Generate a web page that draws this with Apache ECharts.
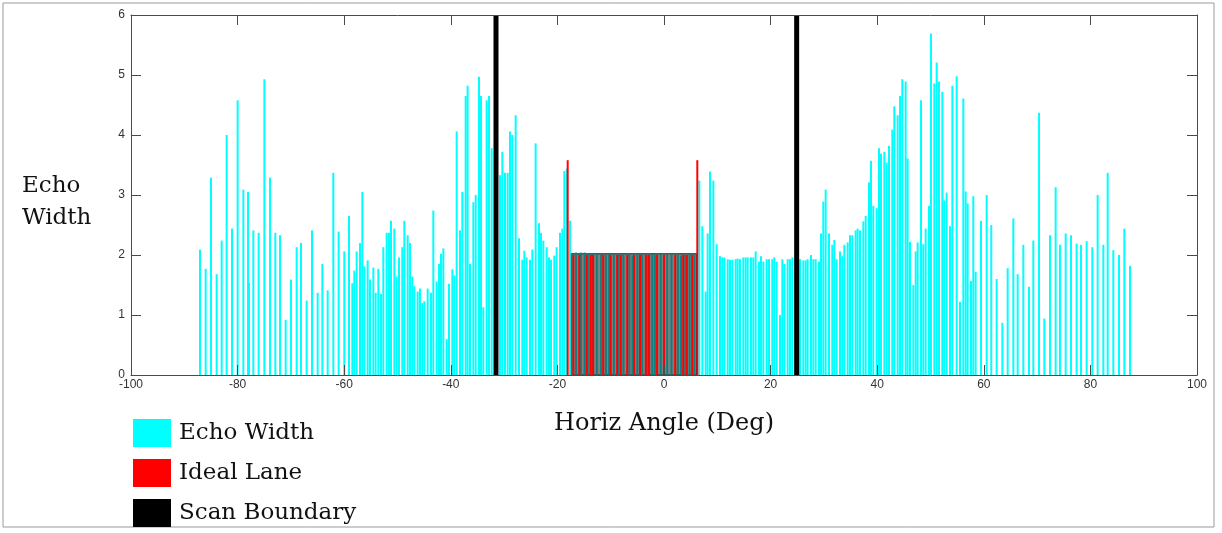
<!DOCTYPE html>
<html>
<head>
<meta charset="utf-8">
<script src="https://cdn.jsdelivr.net/npm/echarts@6/dist/echarts.min.js"></script>
<style>
  html, body { margin: 0; padding: 0; background: #fff; }
  #chart { width: 1222px; height: 533px; }
</style>
</head>
<body>
<div id="chart"></div>
<script>
// Echo width per horizontal angle, [angle (deg), width]
const echoLeft = [
  [-87.05,2.09],[-85.99,1.77],[-84.99,3.29],[-83.93,1.68],[-82.99,2.24],[-82.05,4.0],[-81.05,2.44],[-79.99,4.58],[-78.92,3.09],[-78.05,3.05],
  [-77.86,1.54],[-77.05,2.41],[-76.05,2.37],[-74.98,4.93],[-73.92,3.29],[-72.92,2.37],[-72.05,2.33],[-70.98,0.92],[-69.98,1.59],[-68.92,2.13],
  [-68.1,2.2],[-67.04,1.24],[-66.04,2.41],[-64.98,1.37],[-64.1,1.85],[-63.1,1.41],[-62.04,3.37],[-61.04,2.39],[-59.98,2.06],[-59.1,2.65],
  [-58.47,1.53],[-58.1,1.74],[-57.66,2.06],[-57.04,2.2],[-56.6,3.05],[-56.22,1.81],[-55.6,1.91],[-55.16,1.59],[-54.53,1.79],[-54.1,1.37],
  [-53.6,1.77],[-53.1,1.35],[-52.66,2.13],[-52.03,2.37],[-51.6,2.37],[-51.22,2.57],[-50.59,2.44],[-50.16,1.64],[-49.72,1.96],[-49.09,2.13],
  [-48.72,2.57],[-48.09,2.33],[-47.65,2.2],[-47.22,1.64],[-46.84,1.48],[-46.22,1.39],[-45.78,1.44],[-45.34,1.2],[-44.97,1.23],
  [-44.34,1.44],[-43.71,1.37],[-43.28,2.74],[-42.65,1.56],[-42.21,1.85],[-41.84,2.02],[-41.4,2.11],[-40.77,0.6],[-40.34,1.52],[-39.71,1.76],
  [-39.34,1.66],[-38.9,4.06],[-38.27,2.41],[-37.84,3.05],[-37.21,4.65],[-36.84,4.82],[-36.4,1.85],[-35.77,2.88],[-35.33,3.0],[-34.71,4.97],
  [-34.33,4.65],[-33.9,1.13],[-33.27,4.58],[-32.83,4.65],[-32.33,3.78],[-30.77,3.33],[-30.33,3.72],[-29.83,3.37],[-29.33,3.37],[-28.89,4.06],
  [-28.46,4.0],[-27.83,4.33],[-27.2,2.28],[-26.58,1.92],[-26.2,2.07],[-25.77,1.96],[-25.14,1.92],[-24.7,2.09],[-24.08,3.86],[-23.45,2.53],
  [-23.08,2.37],[-22.64,2.24],[-22.01,2.13],[-21.58,1.96],[-21.2,1.92],[-20.58,1.99],[-20.14,2.13],[-19.51,2.37],[-19.07,2.44],[-18.7,3.4],
  [-18.26,3.44],[-17.64,2.57]
];
const echoLane = [
  [-17.3,2.02],[-16.5,2.04],[-15.6,2.04],[-14.9,2.04],[-14.3,2.03],[-13.5,2.02],[-12.6,2.01],[-11.8,2.02],[-10.9,2.0],[-10.3,2.02],
  [-9.4,2.01],[-8.5,2.0],[-7.6,2.02],[-6.5,2.01],[-5.9,1.99],[-5.0,2.02],[-4.1,2.01],[-3.1,2.0],[-2.2,2.02],[-1.7,2.01],
  [-0.6,2.02],[0.6,2.0],[1.4,2.02],[2.6,2.01],[3.2,1.99],[4.0,2.0],[4.8,2.02],[5.7,2.01]
];
const echoRight = [
  [6.63,3.24],[7.19,2.48],[7.82,1.39],[8.19,2.36],[8.63,3.39],[9.26,3.24],[9.88,2.18],[10.51,1.98],[10.94,1.96],[11.32,1.96],
  [11.95,1.93],[12.38,1.92],[12.82,1.92],[13.45,1.93],[13.82,1.94],[14.26,1.93],[14.88,1.96],[15.32,1.96],[15.7,1.96],[16.32,1.96],
  [16.76,1.96],[17.2,2.06],[17.82,1.89],[18.2,1.98],[18.64,1.89],[19.26,1.93],[19.7,1.93],[20.32,1.93],[20.7,1.96],[21.14,1.89],
  [21.76,1.0],[22.2,1.93],[22.58,1.85],[23.2,1.93],[23.64,1.93],[24.08,1.96],[25.52,1.93],[26.14,1.91],[26.58,1.91],[26.95,1.93],
  [27.58,2.0],[28.02,1.93],[28.46,1.93],[29.08,1.89],[29.46,2.36],[29.89,2.89],[30.33,3.09],[30.96,2.36],[31.58,2.17],[31.96,2.25],
  [32.39,1.93],[33.02,2.06],[33.46,1.98],[33.83,2.17],[34.46,2.21],[34.9,2.33],[35.33,2.33],[35.96,2.41],[36.33,2.44],[36.77,2.41],
  [37.4,2.56],[37.84,2.65],[38.46,3.21],[38.84,3.57],[39.27,2.82],[39.9,2.78],[40.34,3.78],[40.71,3.69],[41.34,3.72],[41.78,3.54],
  [42.21,3.82],[42.84,4.09],[43.21,4.48],[43.84,4.33],[44.28,4.65],[44.71,4.93],[45.34,4.89],[45.71,3.61],[46.15,2.22],[46.78,1.5],
  [47.22,2.06],[47.59,2.21],[48.22,4.58],[48.65,2.18],[49.09,2.44],[49.72,2.82],[50.09,5.69],[50.72,4.86],[51.16,5.21],[51.59,4.89],
  [52.22,4.72],[52.59,2.91],[53.03,3.04],[53.66,2.48],[54.1,4.82],[54.91,4.98],[55.53,1.22],[56.16,4.61],[56.6,3.06],[56.97,2.86],
  [57.6,1.57],[58.03,2.98],[58.47,1.72],[59.47,2.57],[60.54,3.0],[61.4,2.5],[62.41,1.6],[63.48,0.87],[64.48,1.78],[65.54,2.61],
  [66.35,1.68],[67.42,2.17],[68.48,1.47],[69.29,2.24],[70.36,4.37],[71.36,0.94],[72.42,2.33],[73.48,3.13],[74.3,2.17],[75.36,2.36],
  [76.36,2.33],[77.42,2.19],[78.24,2.17],[79.3,2.23],[80.36,2.13],[81.36,3.0],[82.43,2.17],[83.24,3.37],[84.3,2.08],[85.37,2.0],
  [86.37,2.44],[87.43,1.82]
];
// Ideal lane marks, [angle (deg), width]
const idealLane = [
  [-18.07,3.58],[-17.0,2.0],[-15.9,2.0],[-14.5,2.0],[-13.8,2.0],[-13.3,2.0],[-11.4,2.0],[-10.0,2.0],[-8.8,2.0],[-8.1,2.0],
  [-6.9,2.0],[-5.6,2.0],[-4.5,2.0],[-3.4,2.0],[-2.8,2.0],[-1.3,2.0],[0.0,2.0],[2.1,2.0],[3.6,2.0],[4.3,2.0],
  [5.3,2.0],[6.25,3.58]
];
// Lane band: [from angle, to angle, height]
const laneBand = [-17.45, 6.13, 2.02];
// Scan boundaries, [angle (deg), height]
const scanBoundary = [[-31.52, 6], [24.89, 6]];
// Axis settings: [min, max, interval]
const xRange = [-100, 100, 20];
const yRange = [0, 6, 1];

const CYAN = '#00ffff', TEAL = '#0d7f7f', AXIS = '#4a4a4a';
const serif = 'DejaVu Serif';
const sans = 'Liberation Sans';

const echoData = echoLeft.map(d => d)
  .concat(echoLane.map(d => ({ value: d, itemStyle: { color: TEAL } })))
  .concat(echoRight);

const axisCommon = {
  type: 'value',
  z: 10,
  axisLine: { show: true, onZero: false, lineStyle: { color: AXIS, width: 1 } },
  axisTick: { show: true, inside: true, length: 10, lineStyle: { color: AXIS } },
  splitLine: { show: false }
};

const chart = echarts.init(document.getElementById('chart'), null, { renderer: 'canvas' });
chart.setOption({
  animation: false,
  backgroundColor: '#fff',
  grid: { left: 131, right: 25, top: 15, bottom: 158 },
  xAxis: [
    Object.assign({}, axisCommon, {
      position: 'bottom', min: xRange[0], max: xRange[1], interval: xRange[2],
      axisLabel: { color: '#333', fontSize: 12, fontFamily: sans, margin: 4 },
      name: 'Horiz Angle (Deg)', nameLocation: 'middle', nameGap: 37,
      nameTextStyle: { fontFamily: serif, fontSize: 24, color: '#111' }
    }),
    Object.assign({}, axisCommon, {
      position: 'top', min: xRange[0], max: xRange[1], interval: xRange[2],
      axisLabel: { show: false }
    })
  ],
  yAxis: [
    Object.assign({}, axisCommon, {
      position: 'left', min: yRange[0], max: yRange[1], interval: yRange[2],
      axisLabel: { color: '#333', fontSize: 12, fontFamily: sans, margin: 6 }
    }),
    Object.assign({}, axisCommon, {
      position: 'right', min: yRange[0], max: yRange[1], interval: yRange[2],
      axisLabel: { show: false }
    })
  ],
  legend: {
    orient: 'vertical', left: 128, top: 414,
    itemWidth: 38, itemHeight: 28, itemGap: 12, icon: 'rect',
    textStyle: { fontFamily: serif, fontSize: 23, color: '#111', padding: [0, 0, 0, 3] },
    data: [
      { name: 'Echo Width', itemStyle: { color: CYAN } },
      { name: 'Ideal Lane', itemStyle: { color: '#ff0000' } },
      { name: 'Scan Boundary', itemStyle: { color: '#000' } }
    ]
  },
  graphic: [
    { type: 'rect', shape: { x: 3, y: 3, width: 1211, height: 524 },
      style: { fill: 'none', stroke: '#9a9a9a', lineWidth: 1 }, silent: true },
    { type: 'text', left: 22, top: 170,
      style: { text: 'Echo\nWidth', font: '23px "DejaVu Serif"', fill: '#111', lineHeight: 32 } }
  ],
  series: [
    {
      name: 'Echo Width', type: 'bar', xAxisIndex: 0, yAxisIndex: 0,
      barWidth: 2, barGap: '-100%', color: CYAN,
      data: echoData,
      markArea: {
        silent: true,
        itemStyle: { color: '#808080', borderColor: '#1a1a1a', borderWidth: 1 },
        data: [[{ coord: [laneBand[0], 0] }, { coord: [laneBand[1], laneBand[2]] }]]
      }
    },
    {
      name: 'Ideal Lane', type: 'bar', xAxisIndex: 0, yAxisIndex: 0,
      barWidth: 2, barGap: '-100%', color: '#ff0000',
      data: idealLane
    },
    {
      name: 'Scan Boundary', type: 'bar', xAxisIndex: 1, yAxisIndex: 0,
      barWidth: 5, color: '#000000',
      data: scanBoundary
    }
  ]
});
</script>
</body>
</html>
